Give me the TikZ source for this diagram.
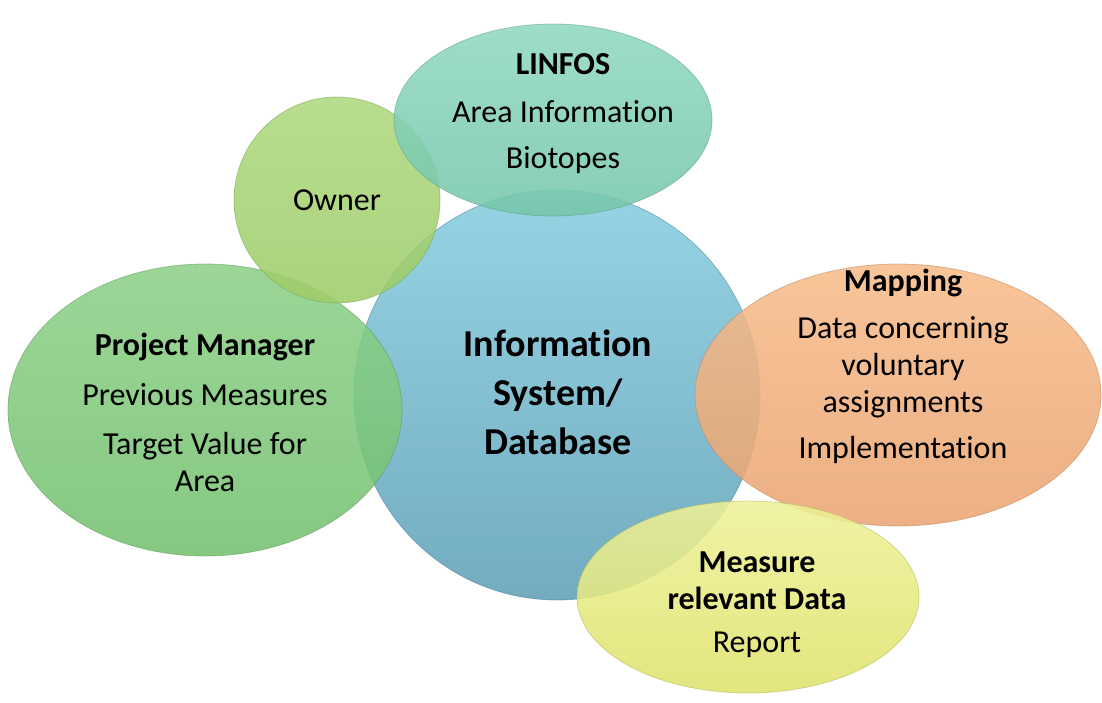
\documentclass[tikz,border=0pt]{standalone}
\usepackage{fontspec}
\setmainfont{Carlito}[Ligatures={NoCommon,NoRequired,NoContextual}, Contextuals={NoAlternate}]
\usetikzlibrary{shapes.geometric}
\newcommand\tinolig{t\kern0pt i}
\definecolor{cBlueT}{HTML}{86CDE0}
\definecolor{cBlueB}{HTML}{5E9FB6}
\definecolor{cPMT}{HTML}{8CD087}
\definecolor{cPMB}{HTML}{74C06F}
\definecolor{cOwT}{HTML}{ADD87E}
\definecolor{cOwB}{HTML}{9ECC68}
\definecolor{cLiT}{HTML}{8FD8C1}
\definecolor{cLiB}{HTML}{76C6AB}
\definecolor{cMaT}{HTML}{F7BC8A}
\definecolor{cMaB}{HTML}{EAA472}
\definecolor{cMeT}{HTML}{EEF196}
\definecolor{cMeB}{HTML}{DFE26B}
\tikzset{
  bubble/.style={ellipse, inner sep=0pt, fill opacity=0.87, draw opacity=0.5, line width=0.8pt},
  txt/.style={font=\fontsize{32}{37}\selectfont, align=center, text=black, inner sep=0pt},
  bold/.style={txt, font=\fontsize{32}{37}\selectfont\bfseries},
  big/.style={txt, font=\fontsize{38}{49}\selectfont\bfseries}
}
\begin{document}
\begin{tikzpicture}[x=1pt,y=-1pt]
\useasboundingbox (0,0) rectangle (1102,702);
% central circle
\node[bubble, top color=cBlueT, bottom color=cBlueB, draw=cBlueB!80!black, minimum width=406pt, minimum height=410pt] (info) at (557,395) {};
\node[bubble, top color=cPMT, bottom color=cPMB, draw=cPMB!80!black, minimum width=394pt, minimum height=292pt] (pm) at (205,410) {};
\node[bubble, top color=cOwT, bottom color=cOwB, draw=cOwB!80!black, minimum width=206pt, minimum height=206pt] (owner) at (337,200) {};
\node[bubble, top color=cLiT, bottom color=cLiB, draw=cLiB!80!black, minimum width=318pt, minimum height=192pt] (linfos) at (553,120) {};
\node[bubble, top color=cMaT, bottom color=cMaB, draw=cMaB!80!black, minimum width=406pt, minimum height=262pt] (mapping) at (898,395) {};
\node[bubble, top color=cMeT, bottom color=cMeB, draw=cMeB!80!black, minimum width=342pt, minimum height=192pt] (measure) at (748,597) {};
% texts
\node[big] (tInfo) at (558,392) {Informa\tinolig on\\System/\\Database};
\node[bold] (tPM) at (205,347) {Project Manager};
\node[txt] (tPM2) at (205,395) {Previous Measures};
\node[txt] (tPM3) at (205,462) {Target Value for\\Area};
\node[txt] (tOwner) at (337,200) {Owner};
\node[bold] (tLi) at (563,64) {LINFOS};
\node[txt] (tLi2) at (563,112) {Area Informa\tinolig on};
\node[txt] (tLi3) at (563,160) {Biotopes};
\node[bold] (tMa) at (903,283) {Mapping};
\node[txt] (tMa2) at (903,367) {Data concerning\\voluntary\\assignments};
\node[txt] (tMa3) at (903,450) {Implementa\tinolig on};
\node[bold] (tMe) at (757,581) {Measure\\relevant Data};
\node[txt] (tMe2) at (757,645) {Report};
\end{tikzpicture}
\end{document}
